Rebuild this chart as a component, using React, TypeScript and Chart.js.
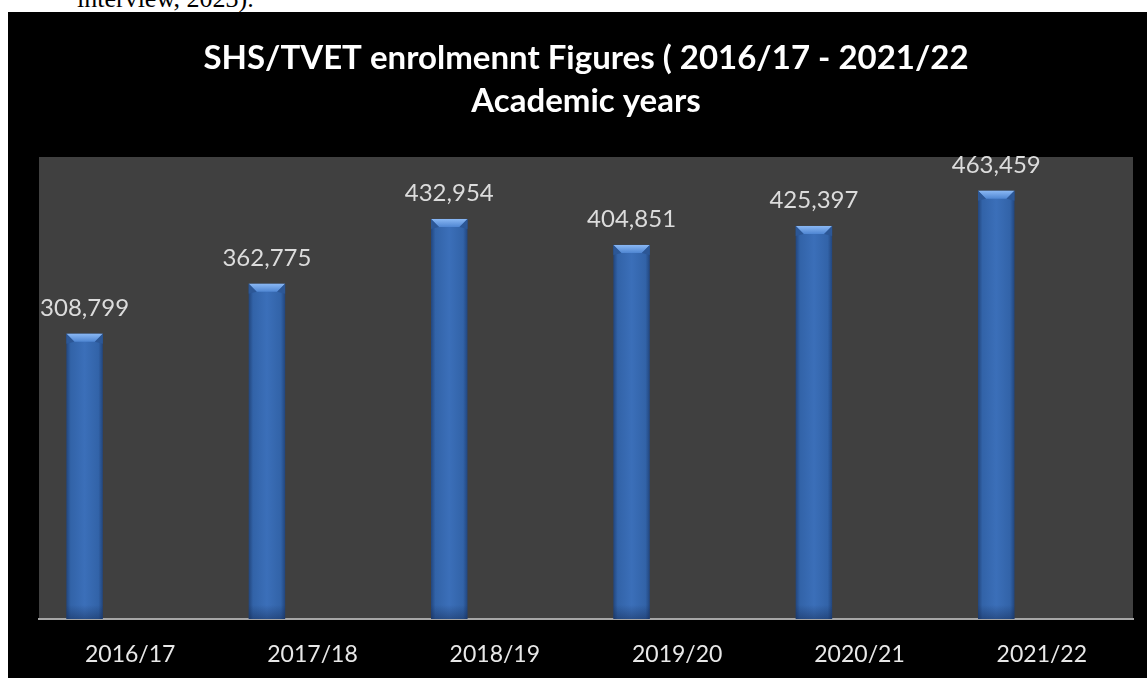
import React, { useEffect, useRef } from "react";
import { Chart, registerables } from "chart.js";

Chart.register(...registerables);

const categories = ["2016/17", "2017/18", "2018/19", "2019/20", "2020/21", "2021/22"];
const enrolment = [308799, 362775, 432954, 404851, 425397, 463459];
const emptySeries = [null, null, null, null, null, null];
const titleLines = ["SHS/TVET enrolmennt Figures ( 2016/17 - 2021/22", "Academic years"];
const yMax = 500000;

const fmt = (v: number) => v.toLocaleString("en-US");

const backgroundPlugin = {
  id: "bgFill",
  beforeDraw(chart: any) {
    const { ctx, chartArea, width, height } = chart;
    ctx.save();
    ctx.fillStyle = "#000000";
    ctx.fillRect(0, 0, width, height);
    ctx.fillStyle = "#404040";
    ctx.fillRect(chartArea.left, chartArea.top, chartArea.right - chartArea.left, chartArea.bottom - chartArea.top);
    ctx.restore();
  },
};

const barPainter = {
  id: "barPainter",
  afterDatasetsDraw(chart: any) {
    const { ctx } = chart;
    const meta = chart.getDatasetMeta(0);
    ctx.save();
    meta.data.forEach((bar: any, i: number) => {
      const { x, y, base, width } = bar.getProps(["x", "y", "base", "width"], true);
      const x0 = x - width / 2;
      const x1 = x + width / 2;
      const h = base - y;
      const g = ctx.createLinearGradient(x0, 0, x1, 0);
      g.addColorStop(0, "#22467e");
      g.addColorStop(0.12, "#3263a8");
      g.addColorStop(0.5, "#3b6fb9");
      g.addColorStop(0.88, "#3263a8");
      g.addColorStop(1, "#22467e");
      ctx.fillStyle = g;
      ctx.fillRect(x0, y, width, h);
      const gb = ctx.createLinearGradient(0, base - 14, 0, base);
      gb.addColorStop(0, "rgba(20,40,80,0)");
      gb.addColorStop(1, "rgba(20,40,80,0.45)");
      ctx.fillStyle = gb;
      ctx.fillRect(x0, base - 14, width, 14);
      const d = 8;
      const gt = ctx.createLinearGradient(0, y, 0, y + d);
      gt.addColorStop(0, "#8ab8f4");
      gt.addColorStop(1, "#4f86d2");
      ctx.fillStyle = gt;
      ctx.beginPath();
      ctx.moveTo(x0, y);
      ctx.lineTo(x1, y);
      ctx.lineTo(x1 - d, y + d);
      ctx.lineTo(x0 + d, y + d);
      ctx.closePath();
      ctx.fill();
      ctx.fillStyle = "#2c5796";
      ctx.beginPath();
      ctx.moveTo(x0, y);
      ctx.lineTo(x0 + d, y + d);
      ctx.lineTo(x0, y + d + 2);
      ctx.closePath();
      ctx.fill();
      ctx.beginPath();
      ctx.moveTo(x1, y);
      ctx.lineTo(x1 - d, y + d);
      ctx.lineTo(x1, y + d + 2);
      ctx.closePath();
      ctx.fill();
      ctx.fillStyle = "#dcdcdc";
      ctx.font = "24px Lato";
      ctx.textAlign = "center";
      ctx.textBaseline = "alphabetic";
      ctx.fillText(fmt(enrolment[i]), x, y - 18);
    });
    ctx.restore();
  },
};

export default function App() {
  const canvasRef = useRef<HTMLCanvasElement | null>(null);

  useEffect(() => {
    if (!canvasRef.current) return;
    const chart = new Chart(canvasRef.current, {
      type: "bar",
      data: {
        labels: categories,
        datasets: [
          {
            label: "Enrolment",
            data: enrolment,
            backgroundColor: "rgba(0,0,0,0)",
            borderWidth: 0,
            categoryPercentage: 1.0,
            barPercentage: 0.4,
          },
          {
            label: "",
            data: emptySeries as any,
            backgroundColor: "rgba(0,0,0,0)",
            categoryPercentage: 1.0,
            barPercentage: 0.4,
          },
        ],
      },
      options: {
        responsive: false,
        animation: false,
        devicePixelRatio: 1,
        layout: { padding: { left: 31, right: 14, top: 0, bottom: 0 } },
        plugins: {
          legend: { display: false },
          tooltip: { enabled: false },
          title: {
            display: true,
            text: titleLines,
            color: "#ffffff",
            font: { family: "Lato", size: 33, weight: "bold", lineHeight: "43px" },
            padding: { top: 25, bottom: 34 },
          },
        },
        scales: {
          y: { display: false, min: 0, max: yMax },
          x: {
            z: 1,
            grid: { display: false, drawTicks: false },
            border: { display: true, color: "#a6a6a6", width: 2 },
            ticks: {
              color: "#e8e8e8",
              font: { family: "Lato", size: 23 },
              padding: 22,
            },
            afterFit(scale: any) {
              scale.height = 59;
            },
          },
        },
      },
      plugins: [backgroundPlugin, barPainter],
    });
    return () => chart.destroy();
  }, []);

  return (
    <div style={{ position: "absolute", left: 0, top: 0, width: 1147, height: 678, background: "#fff", overflow: "hidden" }}>
      <div
        style={{
          position: "absolute",
          left: 77,
          top: -16,
          fontFamily: '"Liberation Serif", serif',
          fontSize: 26,
          lineHeight: "30px",
          whiteSpace: "nowrap",
          color: "#000",
        }}
      >
        interview, 2023).
      </div>
      <div style={{ position: "absolute", left: 8, top: 12, width: 1139, height: 666, background: "#000" }}>
        <canvas ref={canvasRef} width={1139} height={666} style={{ display: "block" }} />
      </div>
    </div>
  );
}
